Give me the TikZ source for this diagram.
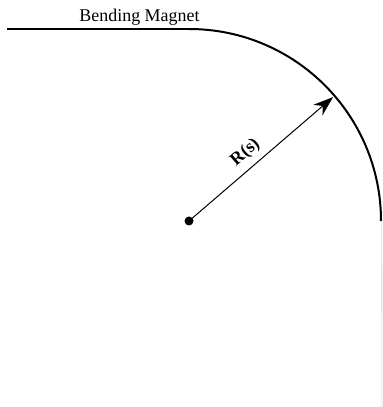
\documentclass[tikz,border=0pt]{standalone}
\usepackage{fontspec}
\setmainfont{Liberation Serif}
\usetikzlibrary{arrows.meta, calc}

\begin{document}
\begin{tikzpicture}[x=1bp, y=1bp, >={Stealth[length=20bp, width=14bp]}]
    \useasboundingbox (0,0) rectangle (383,407);

    % Centro de curvatura
    \node[circle, fill=black, inner sep=0pt, minimum size=9bp] (O) at (189,186) {};

    % Recta y arco del iman
    \coordinate (A) at (7,378);
    \coordinate (B) at (189,378);
    \draw[line width=1.6bp] (A) -- (B);
    \draw[line width=2bp] (B) arc[start angle=90, end angle=0, radius=192]
        coordinate (C);
    \draw[black!15, line width=0.8bp] ([xshift=0.8bp]C) -- (382,0);

    % Radio
    \coordinate (T) at ($(O)+(40.7:190)$);
    \draw[->, line width=1bp] (O.center) -- (T)
        node[pos=0.46, sloped, above=3bp, font=\fontsize{18}{21}\selectfont\bfseries] (R) {R(s)};

    % Etiqueta
    \node[anchor=base, font=\fontsize{18}{21}\selectfont] (M) at (139.5,386) {Bending Magnet};
\end{tikzpicture}
\end{document}
